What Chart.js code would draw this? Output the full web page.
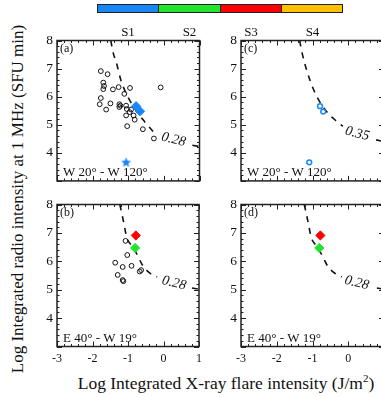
<!DOCTYPE html>
<html><head><meta charset="utf-8">
<script src="https://cdn.jsdelivr.net/npm/chart.js@4.4.1/dist/chart.umd.min.js"></script>
<style>
html,body{margin:0;padding:0;background:#fff;overflow:hidden;width:381px;height:397px;}
body{position:relative;font-family:"Liberation Serif","Times New Roman",serif;color:#111;}
canvas{position:absolute;}
.t{position:absolute;white-space:nowrap;line-height:1;}
#bar{position:absolute;left:97px;top:4px;width:246px;height:9px;display:flex;border:1px solid #222;box-sizing:border-box;}
#bar div{flex:1;height:100%;box-sizing:border-box;}
#bar div+div{border-left:1px solid #222;}
</style></head><body>
<div id="bar"></div>
<div class="t" id="ytitle" style="left:17px;top:199px;font-size:17px;transform:translate(-50%,-50%) rotate(-90deg);">Log Integrated radio intensity at 1 MHz (SFU min)</div>
<div class="t" id="xtitle" style="left:226px;top:384px;font-size:17.5px;transform:translate(-50%,-50%);">Log Integrated X-ray flare intensity (J/m<sup style="font-size:11px;vertical-align:7px;line-height:0">2</sup>)</div>
<canvas id="ca" width="190" height="165" style="left:17px;top:28px"></canvas>
<canvas id="cc" width="192" height="165" style="left:201px;top:28px"></canvas>
<canvas id="cb" width="190" height="190" style="left:17px;top:192px"></canvas>
<canvas id="cd" width="192" height="190" style="left:201px;top:192px"></canvas>
<script>
// ---------------- data ----------------
const xTicks = [-3, -2, -1, 0, 1];
const yTicks = [4, 5, 6, 7, 8];
const classNames = ['S1', 'S2', 'S3', 'S4'];
const panelLabels = ['(a)', '(b)', '(c)', '(d)'];
const regionLabels = ['W 20\u00b0 - W 120\u00b0', 'E 40\u00b0 - W 19\u00b0'];
const curveLabels = ['0.28', '0.35'];

// panel (a): W20-W120, all events
const aCircX = [-1.77,-1.58,-1.70,-1.68,-1.70,-1.43,-1.27,-0.95,-1.11,-0.09,-1.77,-1.80,-1.62,-1.50,-1.25,-1.22,-1.25,-1.06,-1.04,-0.92,-0.96,-1.06,-0.85,-0.82,-1.03,-0.59,-0.28];
const aCircY = [6.91,6.80,6.50,6.38,6.27,6.26,6.34,6.31,6.10,6.33,5.95,5.73,5.54,5.76,5.73,5.68,5.63,5.68,5.56,5.54,5.45,5.33,5.33,5.18,4.95,4.84,4.51];
const aDiamX = [-0.78, -0.67];
const aDiamY = [5.66, 5.48];
const aStarX = [-1.06];
const aStarY = [3.67];
// panel (c): W20-W120, S4 events
const cCircX = [-0.79, -0.70, -1.09];
const cCircY = [5.66, 5.47, 3.66];
// panel (b): E40-W19
const bCircX = [-1.07,-1.02,-1.36,-1.15,-0.90,-1.29,-1.15,-1.13,-0.67,-0.63];
const bCircY = [6.72,6.22,5.95,5.80,5.84,5.52,5.34,5.30,5.64,5.69];
const bRedX = [-0.78];
const bRedY = [6.91];
const bGreenX = [-0.80];
const bGreenY = [6.47];
// panel (d)
const dRedX = [-0.78];
const dRedY = [6.91];
const dGreenX = [-0.81];
const dGreenY = [6.47];
// dashed curves (null = gap under the label)
const curveAX = [-1.49,-1.43,-1.31,-1.21,-1.09,-0.95,-0.78,-0.60,-0.40,-0.22,0.30,0.80,1.00];
const curveAY = [8.00,7.60,7.10,6.60,6.20,5.85,5.50,5.20,4.90,4.64,null,4.27,4.22];
const curveBX = [-1.23,-1.16,-1.11,-1.04,-0.90,-0.77,-0.58,-0.40,-0.18,0.30,0.80,1.00];
const curveBY = [8.00,7.60,7.30,6.86,6.55,6.30,5.84,5.60,5.45,null,5.06,5.02];
const curveCX = [-1.36,-1.29,-1.14,-0.98,-0.80,-0.56,-0.35,-0.15,0.30,0.78,1.00];
const curveCY = [8.00,7.55,6.85,6.28,5.82,5.40,5.15,4.95,null,4.46,4.40];
// ---------------------------------------

const SERIF = "'Liberation Serif','Times New Roman',serif";
const BLUE = 'rgb(25,135,245)', GREEN = 'rgb(35,228,45)', RED = 'rgb(255,0,0)', YELLOW = 'rgb(255,192,0)';
const INK = '#111';

// colour key
const bar = document.getElementById('bar');
[BLUE, GREEN, RED, YELLOW].forEach(c => { const d = document.createElement('div'); d.style.background = c; bar.appendChild(d); });
classNames.forEach((n, i) => {
  const d = document.createElement('div'); d.className = 't'; d.textContent = n;
  d.style.cssText = `left:${128 + i * 61.5}px;top:31px;font-size:13px;transform:translate(-50%,-50%);`;
  document.body.appendChild(d);
});

function pts(xs, ys) { return xs.map((x, i) => ({ x: x, y: ys[i] })); }
function starCanvas(r, color) {
  const c = document.createElement('canvas'); const s = Math.ceil(2 * r + 2);
  c.width = s; c.height = s; const g = c.getContext('2d');
  g.fillStyle = color; g.beginPath();
  for (let i = 0; i < 10; i++) {
    const rr = i % 2 ? r * 0.45 : r; const ang = -Math.PI / 2 + i * Math.PI / 5;
    g.lineTo(s / 2 + rr * Math.cos(ang), s / 2 + rr * Math.sin(ang) + 0.5);
  }
  g.closePath(); g.fill(); return c;
}
const circles = (xs, ys, col, bw) => ({ data: pts(xs, ys), pointStyle: 'circle', pointRadius: 2.4, pointBorderWidth: bw || 1, pointBorderColor: col || INK, pointBackgroundColor: 'rgba(0,0,0,0)', showLine: false, order: 2 });
const diamonds = (xs, ys, col) => ({ data: pts(xs, ys), pointStyle: 'rectRot', pointRadius: 4.6, pointBorderWidth: 1, pointBorderColor: col, pointBackgroundColor: col, showLine: false, order: 1 });
const curve = (xs, ys) => ({ data: pts(xs, ys), showLine: true, borderColor: INK, borderWidth: 1.6, borderDash: [6, 6], pointRadius: 0, cubicInterpolationMode: 'monotone', spanGaps: false, fill: false, order: 3 });

const frame = {
  id: 'frame',
  afterDraw(chart, args, o) {
    const { ctx, chartArea: a, scales: { x, y } } = chart;
    ctx.save();
    ctx.strokeStyle = '#222'; ctx.lineWidth = 1;
    ctx.beginPath();
    for (let k = 0; k <= 20; k++) {
      const v = -3 + k * 0.2; const px = Math.round(x.getPixelForValue(v)) + 0.5; const L = k % 5 === 0 ? 5 : 2.5;
      ctx.moveTo(px, a.bottom); ctx.lineTo(px, a.bottom - L);
      ctx.moveTo(px, a.top); ctx.lineTo(px, a.top + L);
    }
    for (let k = 0; k <= 25; k++) {
      const v = 3 + k * 0.2; const py = Math.round(y.getPixelForValue(v)) + 0.5; const L = k % 5 === 0 ? 5 : 2.5;
      ctx.moveTo(a.left, py); ctx.lineTo(a.left + L, py);
      ctx.moveTo(a.right, py); ctx.lineTo(a.right - L, py);
    }
    ctx.stroke();
    ctx.lineWidth = 1.5; ctx.strokeStyle = '#222';
    ctx.strokeRect(a.left, a.top, a.right - a.left, a.bottom - a.top);
    // texts
    ctx.fillStyle = INK;
    ctx.font = `12px ${SERIF}`; ctx.textBaseline = 'top'; ctx.textAlign = 'left';
    ctx.fillText(o.label, a.left + 3, a.top + 2);
    ctx.font = `13px ${SERIF}`; ctx.textBaseline = 'alphabetic';
    ctx.fillText(o.region, a.left + 6, a.bottom - 5);
    const cx = x.getPixelForValue(o.cx), cy = y.getPixelForValue(o.cy);
    ctx.translate(cx, cy); ctx.rotate(o.angle * Math.PI / 180);
    ctx.font = `italic 14px ${SERIF}`; ctx.textAlign = 'center'; ctx.textBaseline = 'middle';
    ctx.fillText(o.curve, 0, 0);
    ctx.restore();
  }
};

function make(id, datasets, showX, padBottom, ann) {
  return new Chart(document.getElementById(id), {
    type: 'scatter',
    data: { datasets: datasets },
    plugins: [frame],
    options: {
      responsive: false, animation: false, devicePixelRatio: 1,
      layout: { padding: { left: 6, top: 12.5, right: id === 'ca' || id === 'cb' ? 7.5 : 9, bottom: padBottom } },
      plugins: { legend: { display: false }, tooltip: { enabled: false }, frame: ann },
      scales: {
        x: {
          type: 'linear', min: -3, max: 1,
          afterBuildTicks: s => { s.ticks = xTicks.map(v => ({ value: v })); },
          afterFit: s => { s.height = showX ? 24 : 0; },
          ticks: { display: showX, font: { family: SERIF, size: 12 }, color: INK, padding: 5, maxRotation: 0, autoSkip: false },
          grid: { display: false, drawTicks: false }, border: { display: false }
        },
        y: {
          type: 'linear', min: 3, max: 8,
          afterBuildTicks: s => { s.ticks = yTicks.map(v => ({ value: v })); },
          afterFit: s => { s.width = 34; },
          ticks: { font: { family: SERIF, size: 13.5 }, color: INK, padding: 4, autoSkip: false },
          grid: { display: false, drawTicks: false }, border: { display: false }
        }
      }
    }
  });
}

make('ca', [
  diamonds(aDiamX, aDiamY, BLUE),
  { data: pts(aStarX, aStarY), pointStyle: starCanvas(5.2, BLUE), pointRadius: 5, showLine: false, order: 1 },
  circles(aCircX, aCircY),
  curve(curveAX, curveAY)
], false, 10, { label: panelLabels[0], region: regionLabels[0], curve: curveLabels[0], cx: 0.27, cy: 4.47, angle: 14 });

make('cc', [
  circles(cCircX, cCircY, BLUE, 1.5),
  curve(curveCX, curveCY)
], false, 10, { label: panelLabels[2], region: regionLabels[0], curve: curveLabels[1], cx: 0.25, cy: 4.68, angle: 14 });

make('cb', [
  diamonds(bRedX, bRedY, RED),
  diamonds(bGreenX, bGreenY, GREEN),
  circles(bCircX, bCircY),
  curve(curveBX, curveBY)
], true, 11.5, { label: panelLabels[1], region: regionLabels[1], curve: curveLabels[0], cx: 0.30, cy: 5.23, angle: 14 });

make('cd', [
  diamonds(dRedX, dRedY, RED),
  diamonds(dGreenX, dGreenY, GREEN),
  curve(curveBX, curveBY)
], true, 11.5, { label: panelLabels[3], region: regionLabels[1], curve: curveLabels[0], cx: 0.24, cy: 5.24, angle: 14 });
</script>
</body></html>
